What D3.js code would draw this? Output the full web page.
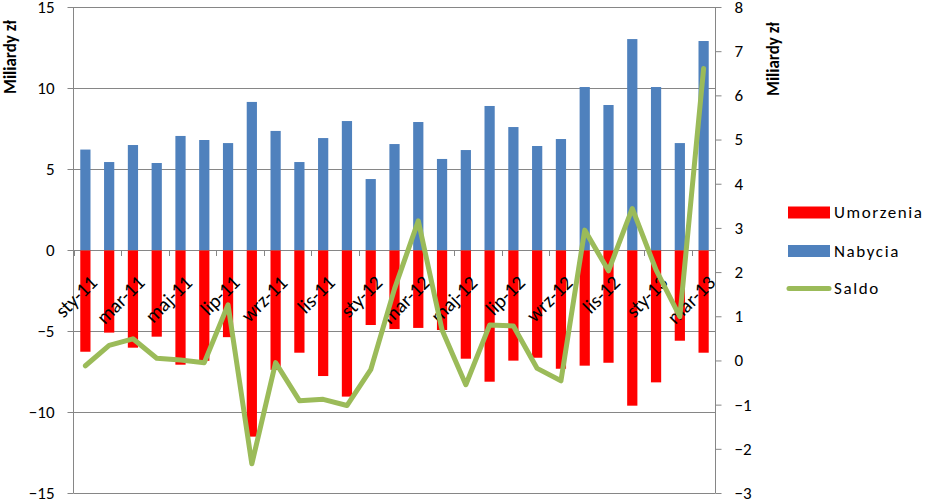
<!DOCTYPE html>
<html>
<head>
<meta charset="utf-8">
<script src="https://cdn.jsdelivr.net/npm/d3@7"></script>
<style>
html,body{margin:0;padding:0;background:#fff;}
svg{display:block;}
text{font-family:Carlito, Lato, "Open Sans", sans-serif;fill:#000;}
</style>
</head>
<body>
<svg id="chart" width="927" height="499"></svg>
<script>
const categories = ["sty-11","lut-11","mar-11","kwi-11","maj-11","cze-11","lip-11","sie-11","wrz-11","paź-11","lis-11","gru-11",
  "sty-12","lut-12","mar-12","kwi-12","maj-12","cze-12","lip-12","sie-12","wrz-12","paź-12","lis-12","gru-12",
  "sty-13","lut-13","mar-13"];
const nabycia = [6.2,5.43,6.48,5.37,7.04,6.79,6.6,9.14,7.35,5.43,6.91,7.96,4.38,6.54,7.9,5.62,6.17,8.89,7.59,6.42,6.85,10.06,8.95,13.02,10.06,6.6,12.9];
const umorzenia = [-6.28,-5.1,-6.03,-5.35,-7.08,-6.84,-5.38,-11.52,-7.4,-6.34,-7.78,-9.05,-4.63,-4.88,-4.81,-4.94,-6.71,-8.13,-6.83,-6.65,-7.33,-7.14,-6.96,-9.61,-8.17,-5.6,-6.34];
const saldo = [-0.12,0.34,0.49,0.05,0.01,-0.05,1.26,-2.34,-0.05,-0.91,-0.88,-1.02,-0.21,1.62,3.16,0.69,-0.55,0.8,0.78,-0.18,-0.46,2.95,2.03,3.44,2.05,0.99,6.61];
const leftTicks = [-15,-10,-5,0,5,10,15];
const rightTicks = [-3,-2,-1,0,1,2,3,4,5,6,7,8];
const axisTitle = "Miliardy zł";
const legendItems = ["Umorzenia","Nabycia","Saldo"];

const C = {red:"#FF0000", blue:"#4F81BD", green:"#9BBB59", grid:"#868686"};
const plot = {left:73.5, right:715.5, top:7, bottom:493};

const svg = d3.select("#chart");
const x = d3.scaleBand().domain(categories).range([plot.left, plot.right]).padding(0);
const yL = d3.scaleLinear().domain([-15,15]).range([plot.bottom, plot.top]);
const yR = d3.scaleLinear().domain([-3,8]).range([plot.bottom, plot.top]);
const bw = x.bandwidth()*0.43;

// gridlines
svg.append("g").selectAll("line").data(leftTicks).join("line")
  .attr("x1", plot.left).attr("x2", plot.right)
  .attr("y1", d=>Math.round(yL(d))+0.5).attr("y2", d=>Math.round(yL(d))+0.5)
  .attr("stroke", C.grid).attr("stroke-width",1);

// bars
const bars = svg.append("g");
bars.selectAll("rect.n").data(nabycia).join("rect").attr("class","n")
  .attr("x",(d,i)=>x(categories[i])+x.bandwidth()/2-bw/2).attr("width",bw)
  .attr("y",d=>yL(d)).attr("height",d=>yL(0)-yL(d)).attr("fill",C.blue);
bars.selectAll("rect.u").data(umorzenia).join("rect").attr("class","u")
  .attr("x",(d,i)=>x(categories[i])+x.bandwidth()/2-bw/2).attr("width",bw)
  .attr("y",yL(0)+0.5).attr("height",d=>yL(d)-yL(0)-0.5).attr("fill",C.red);

// left axis
const la = svg.append("g").attr("transform",`translate(${plot.left},0)`)
  .call(d3.axisLeft(yL).tickValues(leftTicks).tickSize(6).tickPadding(13).tickFormat(d3.format("d")));
la.select(".domain").attr("stroke",C.grid).attr("d",`M-0,${plot.top}V${plot.bottom}`);
la.selectAll(".tick line").attr("stroke",C.grid);
la.selectAll(".tick text").attr("font-size","17px").attr("font-family","Carlito, Lato, sans-serif").attr("fill","#000");

// right axis
const ra = svg.append("g").attr("transform",`translate(${plot.right},0)`)
  .call(d3.axisRight(yR).tickValues(rightTicks).tickSize(6).tickPadding(13).tickFormat(d3.format("d")));
ra.select(".domain").attr("stroke",C.grid).attr("d",`M0,${plot.top}V${plot.bottom}`);
ra.selectAll(".tick line").attr("stroke",C.grid);
ra.selectAll(".tick text").attr("font-size","17px").attr("font-family","Carlito, Lato, sans-serif").attr("fill","#000");

// category axis ticks at 0 line (every 2 categories)
const tickIdx = d3.range(0, categories.length+1, 2);
svg.append("g").selectAll("line").data(tickIdx).join("line")
  .attr("x1",i=>Math.round(plot.left + i*x.step())+0.5).attr("x2",i=>Math.round(plot.left + i*x.step())+0.5)
  .attr("y1",yL(0)).attr("y2",yL(0)+6).attr("stroke",C.grid);

// category labels
svg.append("g").selectAll("text").data(categories.filter((d,i)=>i%2===0)).join("text")
  .attr("x",0).attr("y",0)
  .attr("transform",d=>`translate(${x(d)+x.bandwidth()/2+8},${yL(0)+29}) rotate(-45)`)
  .attr("text-anchor","end").attr("dy","0.35em").attr("font-size","20px").text(d=>d);

// saldo line
const line = d3.line().x((d,i)=>x(categories[i])+x.bandwidth()/2).y(d=>yR(d));
svg.append("path").datum(saldo).attr("d",line).attr("fill","none")
  .attr("stroke",C.green).attr("stroke-width",5).attr("stroke-linejoin","round").attr("stroke-linecap","round");

// axis titles
svg.append("text").attr("transform",`translate(16,57) rotate(-90)`).attr("text-anchor","middle")
  .attr("font-size","17px").attr("font-weight","bold").text(axisTitle);
svg.append("text").attr("transform",`translate(779,59) rotate(-90)`).attr("text-anchor","middle")
  .attr("font-size","17px").attr("font-weight","bold").text(axisTitle);

// legend
const lg = svg.append("g");
const ly = [212.5, 251, 288.5];
lg.append("rect").attr("x",788).attr("y",ly[0]-6).attr("width",42).attr("height",12).attr("fill",C.red);
lg.append("rect").attr("x",788).attr("y",ly[1]-6).attr("width",42).attr("height",12).attr("fill",C.blue);
lg.append("line").attr("x1",789).attr("x2",829).attr("y1",ly[2]).attr("y2",ly[2])
  .attr("stroke",C.green).attr("stroke-width",5).attr("stroke-linecap","round");
lg.selectAll("text").data(legendItems).join("text")
  .attr("x",834).attr("y",(d,i)=>ly[i]).attr("dy","0.35em").attr("font-size","17px")
  .attr("letter-spacing","1.6px").text(d=>d);
</script>
</body>
</html>
